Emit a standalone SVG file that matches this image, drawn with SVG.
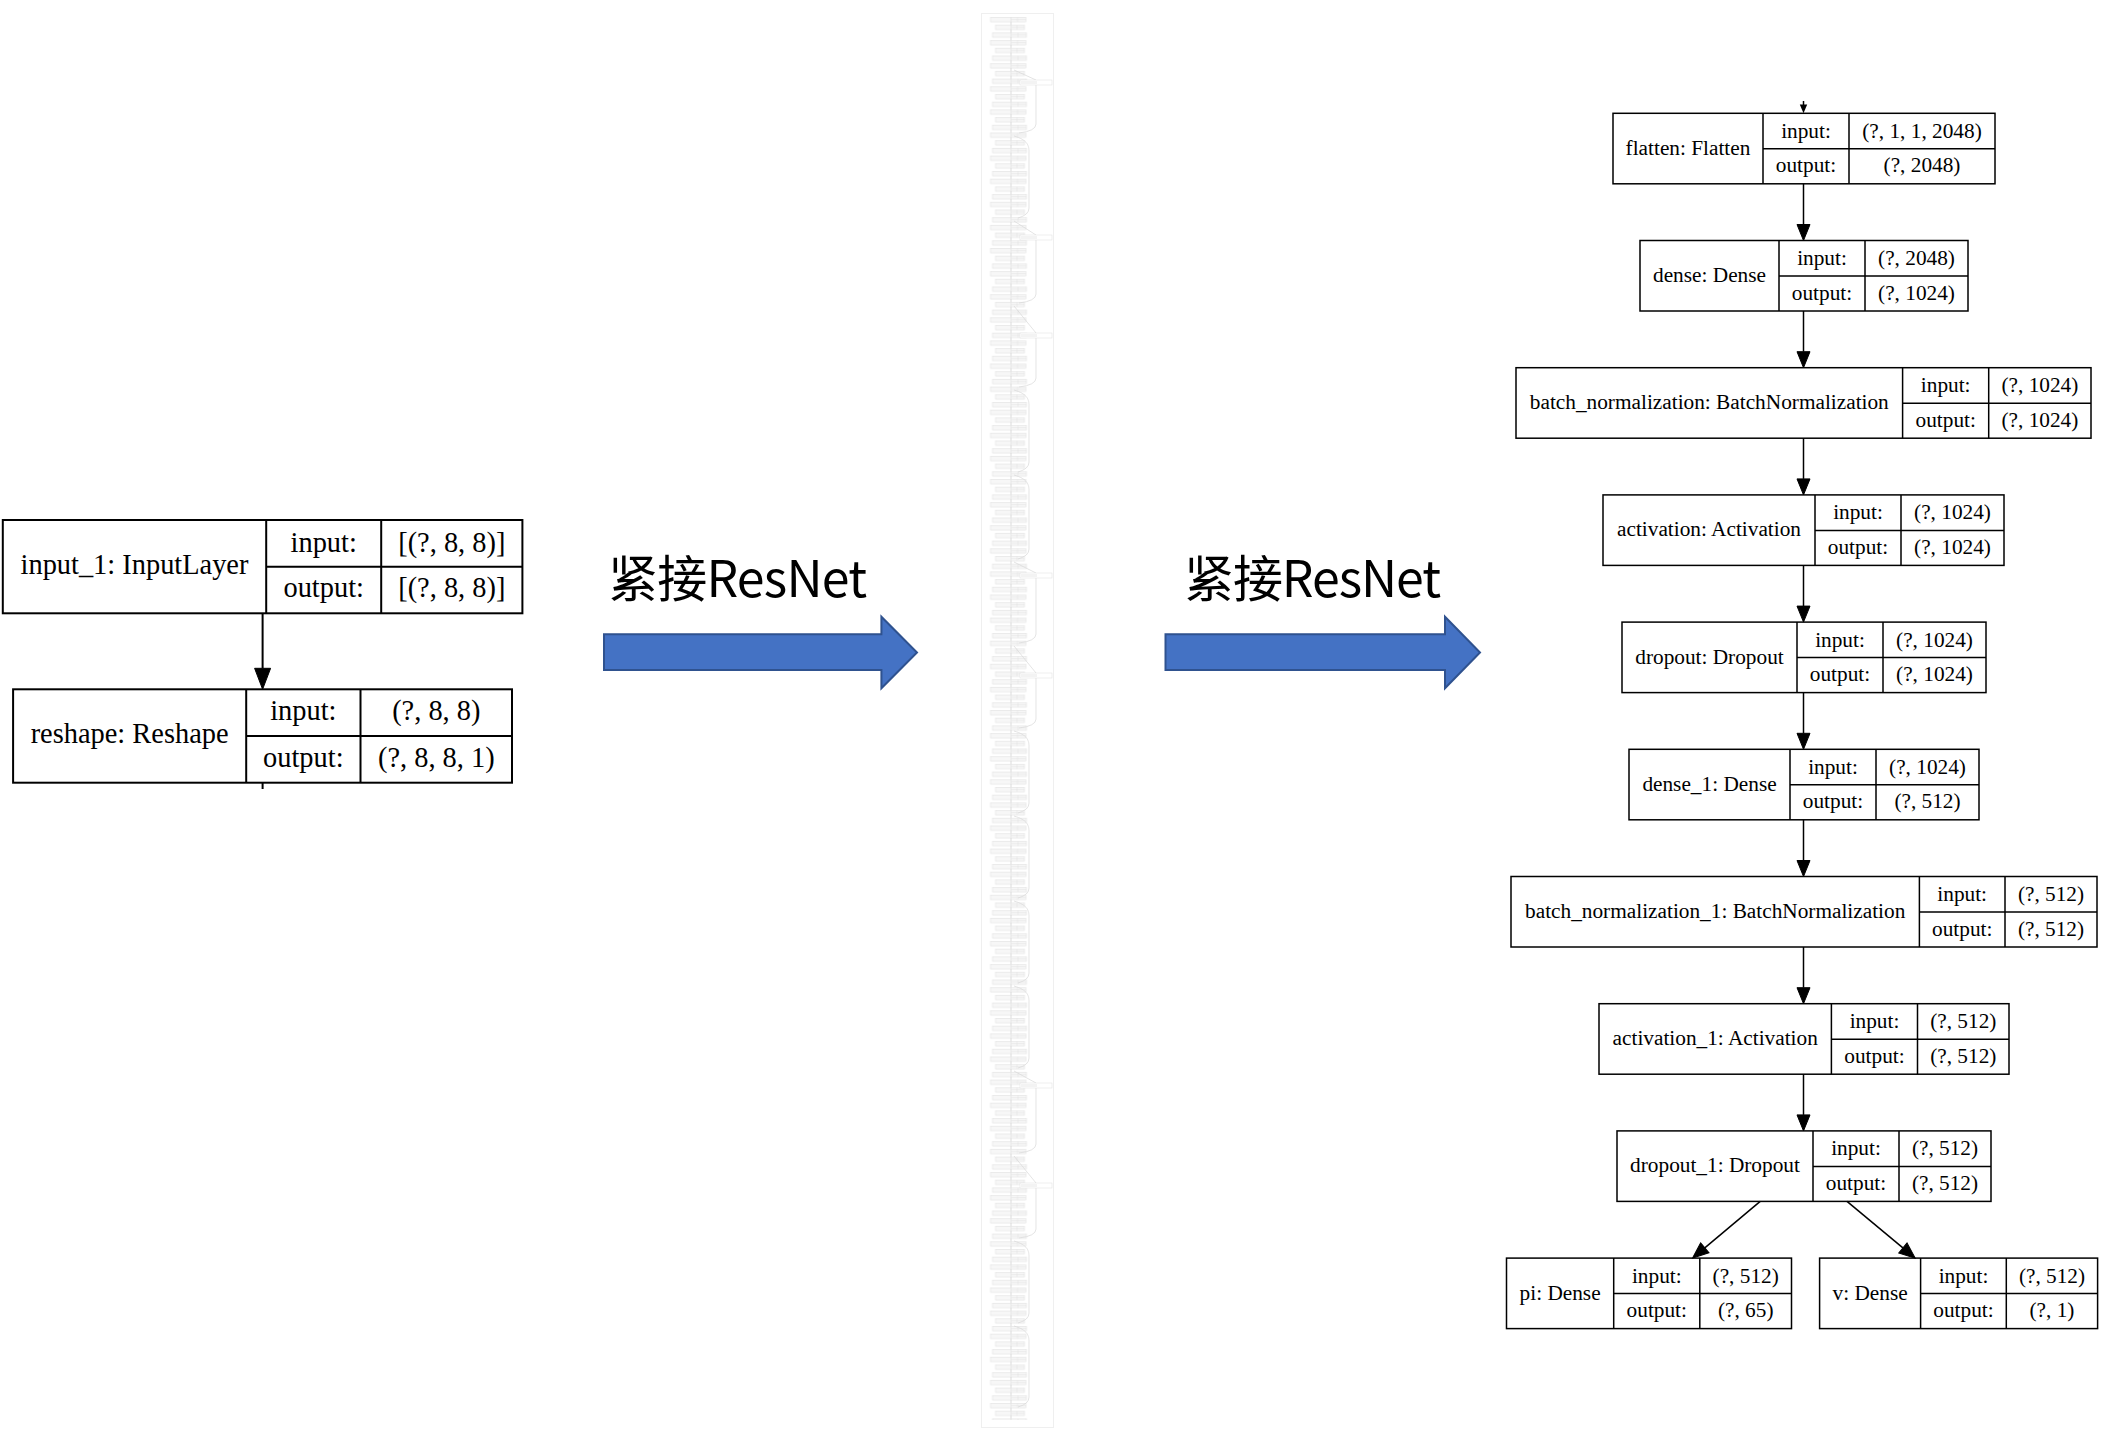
<svg xmlns="http://www.w3.org/2000/svg" width="2108" height="1446" viewBox="0 0 2108 1446">
<style>
.box{fill:#fff;stroke:#000;stroke-width:1.5}
.ln{fill:none;stroke:#000;stroke-width:1.5}
.t{font-family:"Liberation Serif","Times New Roman",serif;font-size:21.3px;text-anchor:middle;fill:#000}
.big .box{stroke-width:2}
.big .ln{stroke-width:2}
.big .t{font-size:28.4px}
.edge{fill:none;stroke:#000;stroke-width:1.5}
.edgeL{fill:none;stroke:#000;stroke-width:2}
.blue{fill:#4472C4;stroke:#2F528F;stroke-width:2}
.cap{font-family:"Noto Sans CJK SC","Noto Sans",sans-serif;font-size:50px;fill:#000}
.tn{fill:#f7f7f7;stroke:#dedede;stroke-width:0.5}
.tl{fill:none;stroke:#e0e0e0;stroke-width:0.5}
.tc{fill:none;stroke:#c4c4c4;stroke-width:0.6}
.tk{fill:none;stroke:#d8d8d8;stroke-width:0.7}
</style>
<defs>
<marker id="ah" markerUnits="userSpaceOnUse" markerWidth="16" markerHeight="13" refX="0" refY="6.5" orient="auto" overflow="visible">
<path d="M0,0 L16,6.5 L0,13 Z" fill="#000" stroke="#000" stroke-width="1"/>
</marker>
<marker id="ahL" markerUnits="userSpaceOnUse" markerWidth="21" markerHeight="16" refX="0" refY="8" orient="auto" overflow="visible">
<path d="M0,0 L21,8 L0,16 Z" fill="#000" stroke="#000" stroke-width="1"/>
</marker>
<pattern id="thumbCol" patternUnits="userSpaceOnUse" x="981.5" y="17" width="72" height="23.1">
<rect class="tn" x="9" y="0.3" width="20.5" height="4.6"/>
<rect class="tn" x="29.5" y="0.3" width="15" height="4.6"/>
<path class="tl" d="M36,0.3V4.9M29.5,2.6H44.5"/>
<path class="tc" d="M29.5,4.9V8"/>
<rect class="tn" x="14" y="8" width="15.5" height="4.6"/>
<rect class="tn" x="29.5" y="8" width="13.5" height="4.6"/>
<path class="tl" d="M35.5,8V12.6M29.5,10.3H43"/>
<path class="tc" d="M29.5,12.6V15.7"/>
<rect class="tn" x="11" y="15.7" width="18.5" height="4.6"/>
<rect class="tn" x="29.5" y="15.7" width="15.5" height="4.6"/>
<path class="tl" d="M36.5,15.7V20.3M29.5,18H45"/>
<path class="tc" d="M29.5,20.3V23.4"/>
</pattern>
</defs>
<rect width="2108" height="1446" fill="#fff"/>

<!-- left nodes -->
<g id="input_1" class="big" transform="translate(2.8,520)">
<rect class="box" width="519.6" height="93.3"/>
<path class="ln" d="M263.4,0V93.3M378.4,0V93.3M263.4,46.7H519.6"/>
<text class="t" x="131.7" y="54">input_1: InputLayer</text>
<text class="t" x="320.9" y="31.7">input:</text>
<text class="t" x="449" y="31.7">[(?, 8, 8)]</text>
<text class="t" x="320.9" y="77.3">output:</text>
<text class="t" x="449" y="77.3">[(?, 8, 8)]</text>
</g>
<g id="reshape" class="big" transform="translate(13.1,689.3)">
<rect class="box" width="498.9" height="93.4"/>
<path class="ln" d="M233.1,0V93.4M347.4,0V93.4M233.1,46.7H498.9"/>
<text class="t" x="116.5" y="54">reshape: Reshape</text>
<text class="t" x="290.2" y="30.7">input:</text>
<text class="t" x="423.2" y="30.7">(?, 8, 8)</text>
<text class="t" x="290.2" y="77.4">output:</text>
<text class="t" x="423.2" y="77.4">(?, 8, 8, 1)</text>
</g>

<!-- big blue arrows and captions -->
<g id="step1">
<polygon class="blue" points="604,634.3 881.4,634.3 881.4,616.7 917,652.5 881.4,688.3 881.4,670 604,670"/>
<text class="cap" x="608" y="597" textLength="259">紧接ResNet</text>
</g>
<g id="step2">
<polygon class="blue" points="1165.5,634.3 1445,634.3 1445,616.7 1480,652.5 1445,688.3 1445,670 1165.5,670"/>
<text class="cap" x="1184" y="597" textLength="257">紧接ResNet</text>
</g>

<!-- ResNet thumbnail -->
<g id="resnet-thumbnail">
<rect x="981.5" y="13.5" width="72" height="1414" fill="none" stroke="#efefef" stroke-width="1"/>
<rect x="981.5" y="17" width="72" height="1403" fill="url(#thumbCol)"/>
<path class="tk" d="M1014,70 L1036,80 M1036,85 V124 Q1036,131 1019,133"/>
<path class="tk" d="M1014,136 C1028,140 1029,146 1029,152 V208 Q1029,215 1018,218"/>
<path class="tk" d="M1014,221 L1036,235 M1036,240 V294 Q1036,301 1019,303"/>
<path class="tk" d="M1014,306 L1036,333 M1036,338 V378 Q1036,385 1019,387"/>
<path class="tk" d="M1014,390 C1028,394 1029,400 1029,406 V462 Q1029,469 1018,472"/>
<path class="tk" d="M1014,475 C1028,479 1029,485 1029,491 V549 Q1029,556 1018,559"/>
<path class="tk" d="M1014,562 L1036,573 M1036,578 V634 Q1036,641 1019,643"/>
<path class="tk" d="M1014,646 L1036,673 M1036,678 V719 Q1036,726 1019,728"/>
<path class="tk" d="M1014,731 C1028,735 1029,741 1029,747 V803 Q1029,810 1018,813"/>
<path class="tk" d="M1014,816 C1028,820 1029,826 1029,832 V888 Q1029,895 1018,898"/>
<path class="tk" d="M1014,901 C1028,905 1029,911 1029,917 V973 Q1029,980 1018,983"/>
<path class="tk" d="M1014,986 C1028,990 1029,996 1029,1002 V1058 Q1029,1065 1018,1068"/>
<path class="tk" d="M1014,1071 L1036,1083 M1036,1088 V1144 Q1036,1151 1019,1153"/>
<path class="tk" d="M1014,1156 L1036,1183 M1036,1188 V1229 Q1036,1236 1019,1238"/>
<path class="tk" d="M1014,1241 C1028,1245 1029,1251 1029,1257 V1313 Q1029,1320 1018,1323"/>
<path class="tk" d="M1014,1326 C1028,1330 1029,1336 1029,1342 V1397 Q1029,1404 1018,1407"/>
<g fill="#fff" stroke="#dedede" stroke-width="0.5">
<rect x="1020" y="80" width="32" height="5"/><rect x="1020" y="235" width="32" height="5"/>
<rect x="1020" y="333" width="32" height="5"/><rect x="1020" y="573" width="32" height="5"/>
<rect x="1020" y="673" width="32" height="5"/><rect x="1020" y="1083" width="32" height="5"/>
<rect x="1020" y="1183" width="32" height="5"/>
</g>
<g fill="#f3f3f3">
<rect x="1021" y="81" width="16" height="3"/><rect x="1021" y="236" width="16" height="3"/>
<rect x="1021" y="334" width="16" height="3"/><rect x="1021" y="574" width="16" height="3"/>
<rect x="1021" y="674" width="16" height="3"/><rect x="1021" y="1084" width="16" height="3"/>
<rect x="1021" y="1184" width="16" height="3"/>
</g>
</g>

<!-- right nodes -->
<g id="flatten" transform="translate(1613,113.3)">
<rect class="box" width="382" height="70.5"/>
<path class="ln" d="M150,0V70.5M236,0V70.5M150,35.5H382"/>
<text class="t" x="75" y="41.5">flatten: Flatten</text>
<text class="t" x="193" y="24.5">input:</text>
<text class="t" x="309" y="24.5">(?, 1, 1, 2048)</text>
<text class="t" x="193" y="59">output:</text>
<text class="t" x="309" y="59">(?, 2048)</text>
</g>
<g id="dense" transform="translate(1640,240.5)">
<rect class="box" width="328" height="70.5"/>
<path class="ln" d="M139,0V70.5M225,0V70.5M139,35.5H328"/>
<text class="t" x="69.5" y="41.5">dense: Dense</text>
<text class="t" x="182" y="24.5">input:</text>
<text class="t" x="276.5" y="24.5">(?, 2048)</text>
<text class="t" x="182" y="59">output:</text>
<text class="t" x="276.5" y="59">(?, 1024)</text>
</g>
<g id="batch_normalization" transform="translate(1516,367.7)">
<rect class="box" width="575" height="70.5"/>
<path class="ln" d="M386.6,0V70.5M472.7,0V70.5M386.6,35.5H575"/>
<text class="t" x="193.3" y="41.5">batch_normalization: BatchNormalization</text>
<text class="t" x="429.7" y="24.5">input:</text>
<text class="t" x="523.9" y="24.5">(?, 1024)</text>
<text class="t" x="429.7" y="59">output:</text>
<text class="t" x="523.9" y="59">(?, 1024)</text>
</g>
<g id="activation" transform="translate(1603,494.9)">
<rect class="box" width="401" height="70.5"/>
<path class="ln" d="M212,0V70.5M298,0V70.5M212,35.5H401"/>
<text class="t" x="106" y="41.5">activation: Activation</text>
<text class="t" x="255" y="24.5">input:</text>
<text class="t" x="349.5" y="24.5">(?, 1024)</text>
<text class="t" x="255" y="59">output:</text>
<text class="t" x="349.5" y="59">(?, 1024)</text>
</g>
<g id="dropout" transform="translate(1622,622.1)">
<rect class="box" width="364" height="70.5"/>
<path class="ln" d="M175,0V70.5M261,0V70.5M175,35.5H364"/>
<text class="t" x="87.5" y="41.5">dropout: Dropout</text>
<text class="t" x="218" y="24.5">input:</text>
<text class="t" x="312.5" y="24.5">(?, 1024)</text>
<text class="t" x="218" y="59">output:</text>
<text class="t" x="312.5" y="59">(?, 1024)</text>
</g>
<g id="dense_1" transform="translate(1629,749.3)">
<rect class="box" width="350" height="70.5"/>
<path class="ln" d="M161,0V70.5M247,0V70.5M161,35.5H350"/>
<text class="t" x="80.5" y="41.5">dense_1: Dense</text>
<text class="t" x="204" y="24.5">input:</text>
<text class="t" x="298.5" y="24.5">(?, 1024)</text>
<text class="t" x="204" y="59">output:</text>
<text class="t" x="298.5" y="59">(?, 512)</text>
</g>
<g id="batch_normalization_1" transform="translate(1511,876.5)">
<rect class="box" width="586" height="70.5"/>
<path class="ln" d="M408.4,0V70.5M494,0V70.5M408.4,35.5H586"/>
<text class="t" x="204.2" y="41.5">batch_normalization_1: BatchNormalization</text>
<text class="t" x="451.2" y="24.5">input:</text>
<text class="t" x="540" y="24.5">(?, 512)</text>
<text class="t" x="451.2" y="59">output:</text>
<text class="t" x="540" y="59">(?, 512)</text>
</g>
<g id="activation_1" transform="translate(1599,1003.7)">
<rect class="box" width="410" height="70.5"/>
<path class="ln" d="M232.4,0V70.5M318.5,0V70.5M232.4,35.5H410"/>
<text class="t" x="116.2" y="41.5">activation_1: Activation</text>
<text class="t" x="275.5" y="24.5">input:</text>
<text class="t" x="364.3" y="24.5">(?, 512)</text>
<text class="t" x="275.5" y="59">output:</text>
<text class="t" x="364.3" y="59">(?, 512)</text>
</g>
<g id="dropout_1" transform="translate(1617,1130.9)">
<rect class="box" width="374" height="70.5"/>
<path class="ln" d="M196,0V70.5M282,0V70.5M196,35.5H374"/>
<text class="t" x="98" y="41.5">dropout_1: Dropout</text>
<text class="t" x="239" y="24.5">input:</text>
<text class="t" x="328" y="24.5">(?, 512)</text>
<text class="t" x="239" y="59">output:</text>
<text class="t" x="328" y="59">(?, 512)</text>
</g>
<g id="pi" transform="translate(1506.5,1258.1)">
<rect class="box" width="285" height="70.5"/>
<path class="ln" d="M107.2,0V70.5M193.3,0V70.5M107.2,35.5H285"/>
<text class="t" x="53.6" y="41.5">pi: Dense</text>
<text class="t" x="150.3" y="24.5">input:</text>
<text class="t" x="239.2" y="24.5">(?, 512)</text>
<text class="t" x="150.3" y="59">output:</text>
<text class="t" x="239.2" y="59">(?, 65)</text>
</g>
<g id="v" transform="translate(1819.6,1258.1)">
<rect class="box" width="278" height="70.5"/>
<path class="ln" d="M101,0V70.5M186.7,0V70.5M101,35.5H278"/>
<text class="t" x="50.5" y="41.5">v: Dense</text>
<text class="t" x="143.9" y="24.5">input:</text>
<text class="t" x="232.4" y="24.5">(?, 512)</text>
<text class="t" x="143.9" y="59">output:</text>
<text class="t" x="232.4" y="59">(?, 1)</text>
</g>

<!-- connectors -->
<g id="connectors">
<path class="edgeL" d="M262.6,613.3V668.3" marker-end="url(#ahL)"/>
<path class="edgeL" d="M262.6,782.7V789"/>
<path class="edge" d="M1803.5,101V106"/>
<polygon points="1799.8,104.5 1807.2,104.5 1803.5,113.3" fill="#000"/>
<path class="edge" d="M1803.5,183.8V224.5" marker-end="url(#ah)"/>
<path class="edge" d="M1803.5,311V351.7" marker-end="url(#ah)"/>
<path class="edge" d="M1803.5,438.2V478.9" marker-end="url(#ah)"/>
<path class="edge" d="M1803.5,565.4V606.1" marker-end="url(#ah)"/>
<path class="edge" d="M1803.5,692.6V733.3" marker-end="url(#ah)"/>
<path class="edge" d="M1803.5,819.8V860.5" marker-end="url(#ah)"/>
<path class="edge" d="M1803.5,947V987.7" marker-end="url(#ah)"/>
<path class="edge" d="M1803.5,1074.2V1114.9" marker-end="url(#ah)"/>
<path class="edge" d="M1760.2,1201.4L1704.8,1247.8" marker-end="url(#ah)"/>
<path class="edge" d="M1847,1201.4L1902.9,1247.9" marker-end="url(#ah)"/>
</g>
</svg>
